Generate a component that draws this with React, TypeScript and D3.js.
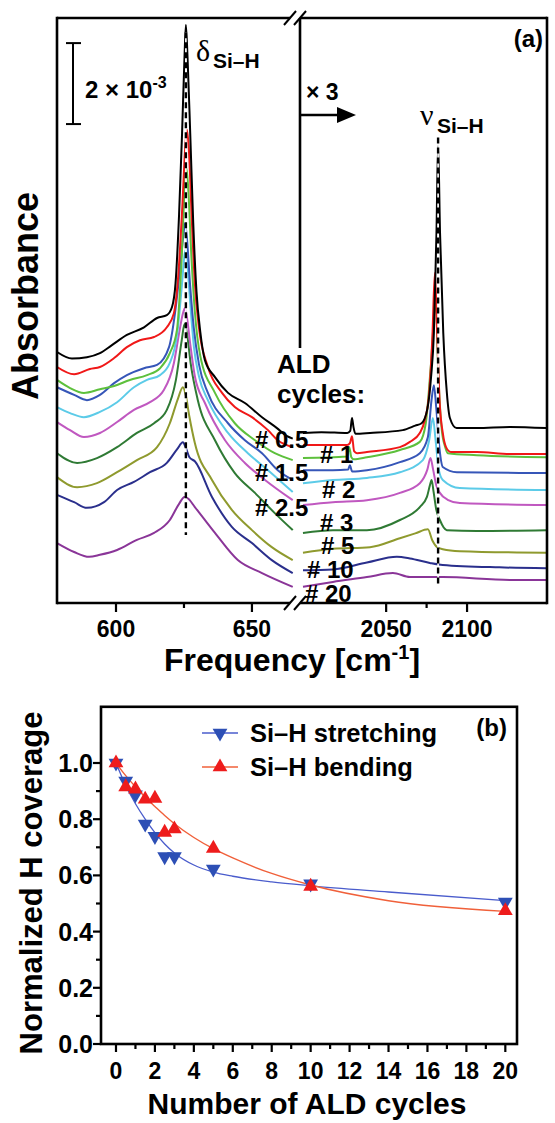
import React from "react";
import * as d3 from "d3";

type Pt = [number, number];

// ---------- Panel (a): FTIR spectra (absorbance in units of 1e-3) ----------
const CYCLES = ["0", "0.5", "1", "1.5", "2", "2.5", "3", "5", "10", "20"];
const COLORS = ["#000000", "#f01818", "#5dc03c", "#3656b8", "#5ccbe8", "#c058c0", "#2f7a34", "#8f9a2e", "#2a2f8c", "#8a3598"];

// delta(Si-H) band, 578-665 cm-1
const bend_0: Pt[] = [[578.3,6.20],[583.8,6.04],[589.3,6.07],[594.1,6.17],[598.5,6.37],[604.0,6.62],[610.3,6.81],[615.1,7.04],[618.7,7.11],[620.6,7.31],[621.9,7.9],[623.2,9.6],[624.3,11.6],[625.2,13.5],[625.7,14.28],[626.3,13.5],[627.3,11.6],[628.4,9.4],[629.6,7.7],[631.0,6.7],[632.7,6.0],[636.4,5.58],[641.2,5.19],[647.4,4.94],[653.7,4.59],[659.2,4.32],[662.9,4.12],[665.0,4.06]];
const bend_05: Pt[] = [[578.3,5.83],[584.6,5.65],[590.4,5.78],[594.1,5.83],[599.3,6.05],[604.0,6.32],[608.8,6.49],[614.0,6.57],[618.7,6.81],[621.3,7.16],[622.8,8.0],[624.4,9.8],[625.5,11.3],[626.1,11.69],[626.8,11.2],[627.8,9.6],[629.0,7.9],[630.5,6.8],[633.8,5.83],[639.0,5.19],[643.7,4.84],[650.0,4.59],[655.9,4.27],[659.5,4.02],[665.0,3.85]];
const bend_1: Pt[] = [[578.3,5.51],[583.1,5.31],[588.2,5.19],[594.1,5.28],[599.3,5.36],[605.1,5.51],[611.4,5.63],[616.2,5.80],[619.8,6.17],[622.4,6.74],[624.0,8.3],[625.3,10.3],[625.9,10.75],[626.6,10.2],[627.7,8.6],[629.0,7.2],[631.0,6.1],[636.4,5.19],[643.7,4.44],[651.1,4.02],[658.4,3.70],[665.0,3.53]];
const bend_15: Pt[] = [[578.3,5.33],[584.6,5.14],[589.3,5.01],[594.1,5.14],[599.3,5.43],[604.0,5.63],[610.3,5.80],[615.1,5.88],[619.5,6.32],[621.7,7.16],[623.6,8.3],[624.8,9.1],[625.4,9.38],[626.1,9.0],[627.2,7.9],[628.6,6.8],[630.5,5.9],[633.8,5.19],[641.2,4.44],[647.4,4.02],[653.7,3.70],[659.5,3.28],[665.0,3.04]];
const bend_2: Pt[] = [[578.3,4.84],[583.1,4.69],[588.2,4.59],[594.1,4.72],[600.4,4.96],[606.6,5.33],[611.4,5.51],[616.2,5.63],[619.8,5.93],[622.6,6.7],[624.3,7.9],[625.2,8.6],[625.6,8.72],[626.2,8.4],[627.3,7.4],[628.7,6.3],[630.5,5.6],[633.8,5.01],[641.2,4.20],[648.5,3.70],[655.9,3.28],[665.0,2.74]];
const bend_25: Pt[] = [[578.3,4.47],[583.1,4.27],[588.2,4.10],[594.1,4.20],[600.4,4.47],[606.6,4.77],[612.5,4.96],[617.6,5.26],[621.3,5.93],[623.3,6.7],[624.6,7.15],[625.3,7.28],[626.0,7.1],[627.3,6.4],[629.0,5.6],[632.7,4.94],[640.1,4.02],[647.4,3.46],[654.8,3.04],[665.0,2.54]];
const bend_3: Pt[] = [[578.3,3.70],[585.7,3.46],[593.0,3.58],[600.4,3.85],[607.7,4.20],[614.0,4.44],[618.7,4.77],[622.0,5.5],[624.2,6.5],[625.2,6.89],[626.0,6.7],[627.5,5.9],[630.1,5.01],[636.4,4.02],[643.7,3.21],[651.1,2.72],[658.4,2.22],[665.0,1.80]];
const bend_5: Pt[] = [[578.3,3.11],[585.7,2.86],[593.0,2.96],[600.4,3.23],[607.7,3.53],[615.1,3.85],[619.8,4.44],[622.8,5.05],[624.6,5.33],[625.6,5.15],[627.0,4.6],[629.0,3.95],[635.3,3.04],[642.6,2.30],[650.0,1.80],[657.3,1.38],[665.0,1.06]];
const bend_10: Pt[] = [[578.3,2.67],[584.6,2.49],[589.3,2.35],[595.6,2.49],[600.4,2.79],[606.6,2.99],[612.5,3.23],[618.7,3.46],[622.5,3.8],[624.6,3.97],[625.6,3.85],[627.0,3.6],[629.0,3.5],[635.3,2.62],[642.6,1.88],[650.0,1.48],[657.3,1.06],[665.0,0.74]];
const bend_20: Pt[] = [[578.3,1.48],[584.6,1.26],[590.1,1.14],[594.1,1.19],[600.4,1.31],[607.7,1.56],[614.0,1.73],[619.8,2.05],[623.2,2.45],[625.2,2.62],[626.5,2.58],[629.0,2.37],[636.4,1.73],[644.8,1.06],[653.7,0.74],[665.0,0.40]];

// nu(Si-H) band, 1998-2149 cm-1 (displayed x3)
const str_0: Pt[] = [[1998.6,4.20],[2010,4.22],[2026.0,4.20],[2027.8,4.25],[2028.9,4.57],[2029.8,4.35],[2031.0,4.18],[2040.0,4.20],[2060.3,4.27],[2068.0,4.38],[2071.9,4.44],[2075.5,4.8],[2077.8,5.6],[2079.5,6.67],[2081.1,9.14],[2082.1,11.31],[2083.3,9.14],[2085.3,6.67],[2087.5,5.2],[2089.4,4.57],[2093.5,4.32],[2106.0,4.32],[2126.4,4.35],[2149.0,4.32]];
const str_05: Pt[] = [[1998.6,3.90],[2025.8,3.90],[2027.6,3.95],[2028.9,4.12],[2030.2,3.75],[2032.0,3.70],[2038.1,3.73],[2058.5,3.85],[2064.7,3.98],[2070.8,4.2],[2073.9,4.52],[2076.6,5.2],[2078.6,6.6],[2080.1,8.15],[2081.5,6.7],[2083.0,5.0],[2085.0,4.2],[2087.0,3.85],[2090.0,3.73],[2106.0,3.73],[2126.4,3.68],[2149.0,3.68]];
const str_1: Pt[] = [[1998.6,3.58],[2025.8,3.62],[2027.2,3.85],[2028.5,3.60],[2030.0,3.55],[2038.1,3.60],[2058.5,3.78],[2070.8,3.98],[2074.5,4.44],[2077.5,5.8],[2080.7,7.4],[2082.3,5.6],[2084.4,4.27],[2086.5,3.85],[2088.1,3.70],[2106.0,3.65],[2149.0,3.60]];
const str_15: Pt[] = [[1998.6,3.28],[2017.1,3.28],[2026.5,3.30],[2027.6,3.40],[2029.0,3.25],[2038.1,3.28],[2058.5,3.48],[2070.8,3.70],[2075.8,4.10],[2078.0,5.0],[2079.5,5.38],[2081.0,4.8],[2083.0,3.8],[2085.0,3.36],[2093.7,3.23],[2149.0,3.21]];
const str_2: Pt[] = [[1998.6,2.96],[2017.1,3.04],[2038.1,3.09],[2058.5,3.23],[2072.7,3.53],[2076.5,4.0],[2078.9,4.57],[2080.6,4.0],[2082.5,3.3],[2085.0,3.04],[2095.5,2.84],[2149.0,2.79]];
const str_25: Pt[] = [[1998.6,2.42],[2017.1,2.49],[2038.1,2.54],[2058.5,2.72],[2070.8,2.96],[2075.5,3.3],[2077.4,3.58],[2079.0,3.3],[2081.0,2.9],[2083.2,2.72],[2088.0,2.55],[2095.5,2.47],[2149.0,2.42]];
const str_3: Pt[] = [[1998.6,1.73],[2017.1,1.80],[2038.1,1.80],[2058.5,2.05],[2070.8,2.37],[2075.2,2.62],[2077.0,2.9],[2078.1,3.04],[2079.3,2.75],[2081.0,2.3],[2083.2,2.05],[2087.5,1.80],[2106.0,1.78],[2149.0,1.80]];
const str_5: Pt[] = [[1998.6,1.24],[2017.1,1.34],[2040.0,1.38],[2058.5,1.60],[2068.0,1.72],[2075.8,1.82],[2078.5,1.55],[2081.5,1.38],[2085.0,1.33],[2095.5,1.28],[2149.0,1.24]];
const str_10: Pt[] = [[1998.6,0.81],[2017.1,0.83],[2038.1,1.0],[2056.6,1.14],[2064.7,1.10],[2077.0,0.99],[2085.0,0.94],[2120.0,0.88],[2149.0,0.86]];
const str_20: Pt[] = [[1998.6,0.40],[2017.1,0.52],[2038.1,0.64],[2054.2,0.74],[2064.7,0.64],[2085.0,0.64],[2126.4,0.57],[2149.0,0.57]];

const BEND = [bend_0, bend_05, bend_1, bend_15, bend_2, bend_25, bend_3, bend_5, bend_10, bend_20];
const STRETCH = [str_0, str_05, str_1, str_15, str_2, str_25, str_3, str_5, str_10, str_20];

const LEFT_TICKS = [600, 650];
const LEFT_MINOR = [625];
const RIGHT_TICKS = [2050, 2100];
const RIGHT_MINOR = [2075];
const BEND_PEAK = 625.7;
const STRETCH_PEAK = 2082.1;

// ---------- Panel (b): normalized H coverage ----------
const ALD_CYCLES = [0, 0.5, 1, 1.5, 2, 2.5, 3, 5, 10, 20];
const STRETCHING = [1.0, 0.936, 0.887, 0.783, 0.739, 0.667, 0.667, 0.623, 0.570, 0.505];
const BENDING = [1.0, 0.915, 0.907, 0.871, 0.874, 0.753, 0.765, 0.696, 0.561, 0.474];
const FIT_X = [0, 0.5, 1, 1.5, 2, 2.5, 3, 4, 5, 6, 8, 10, 14, 20];
const FIT_STRETCH = [1.0, 0.92, 0.855, 0.80, 0.752, 0.712, 0.68, 0.637, 0.612, 0.597, 0.577, 0.563, 0.541, 0.51];
const FIT_BEND = [1.0, 0.955, 0.915, 0.878, 0.845, 0.813, 0.784, 0.735, 0.695, 0.662, 0.607, 0.566, 0.51, 0.472];
const B_XTICKS = [0, 2, 4, 6, 8, 10, 12, 14, 16, 18, 20];
const B_XMINOR = [1, 3, 5, 7, 9, 11, 13, 15, 17, 19];
const B_YTICKS = [0, 0.2, 0.4, 0.6, 0.8, 1.0];
const B_YMINOR = [0.1, 0.3, 0.5, 0.7, 0.9];

const FONT = "'Liberation Sans', Arial, Helvetica, sans-serif";
const SERIF = "'Liberation Serif', 'Times New Roman', serif";

export default function App() {
  // panel (a) scales
  const aTop = 18, aBot = 603, aLeft = 57, aRight = 547;
  const xL = d3.scaleLinear().domain([578.3, 665.1]).range([aLeft, 293]);
  const xR = d3.scaleLinear().domain([1998, 2149.4]).range([302, aRight]);
  const yA = d3.scaleLinear().domain([0, 14.45]).range([aBot, aTop]);
  const lineL = d3.line<Pt>().x((d) => xL(d[0])).y((d) => yA(d[1])).curve(d3.curveMonotoneX);
  const lineR = d3.line<Pt>().x((d) => xR(d[0])).y((d) => yA(d[1])).curve(d3.curveMonotoneX);

  // panel (b) scales
  const bTop = 706.8, bBot = 1044, bLeft = 101, bRight = 517;
  const xB = d3.scaleLinear().domain([-0.77, 20.6]).range([bLeft, bRight]);
  const yB = d3.scaleLinear().domain([0, 1.2]).range([bBot, bTop]);
  const fitLine = d3.line<[number, number]>().x((d) => xB(d[0])).y((d) => yB(d[1])).curve(d3.curveMonotoneX);
  const triUp = d3.symbol(d3.symbolTriangle, 95)() as string;
  const fmt = d3.format(".1f");

  const sw = 2.6;
  const breakX1 = 290, breakX2 = 300;

  const leftLabels = [
    { t: "# 0.5", x: 255, y: 448 },
    { t: "# 1.5", x: 255, y: 481 },
    { t: "# 2.5", x: 255, y: 516 },
  ];
  const rightLabels = [
    { t: "# 1", x: 320, y: 463 },
    { t: "# 2", x: 322, y: 498 },
    { t: "# 3", x: 320, y: 531 },
    { t: "# 5", x: 321, y: 554 },
    { t: "# 10", x: 307, y: 578 },
    { t: "# 20", x: 305, y: 602 },
  ];

  return (
    <svg width={555} height={1123} style={{ position: "absolute", left: 0, top: 0, background: "#fff" }} fontFamily={FONT}>
      <rect x={0} y={0} width={555} height={1123} fill="#fff" />
      {/* ===== Panel (a) ===== */}
      <g>
        {BEND.map((s, i) => (
          <path key={"bl" + i} d={lineL(s) as string} fill="none" stroke={COLORS[i]} strokeWidth={2} strokeLinejoin="round" />
        )).reverse()}
        {STRETCH.map((s, i) => (
          <path key={"sr" + i} d={lineR(s) as string} fill="none" stroke={COLORS[i]} strokeWidth={2} strokeLinejoin="round" />
        )).reverse()}

        {/* dashed peak markers */}
        <line x1={xL(BEND_PEAK)} x2={xL(BEND_PEAK)} y1={yA(14.1)} y2={yA(1.68)} stroke="#fff" strokeWidth={1.6} />
        <line x1={xL(BEND_PEAK)} x2={xL(BEND_PEAK)} y1={yA(14.1)} y2={yA(1.68)} stroke="#000" strokeWidth={2.4} strokeDasharray="6,4" />
        <line x1={xR(STRETCH_PEAK)} x2={xR(STRETCH_PEAK)} y1={yA(11.5)} y2={yA(0.4)} stroke="#fff" strokeWidth={1.6} />
        <line x1={xR(STRETCH_PEAK)} x2={xR(STRETCH_PEAK)} y1={yA(11.5)} y2={yA(0.4)} stroke="#000" strokeWidth={2.4} strokeDasharray="6,4" />

        {/* frame */}
        <line x1={aLeft} x2={aLeft} y1={aTop - 1.3} y2={aBot + 1.3} stroke="#000" strokeWidth={sw} />
        <line x1={aRight} x2={aRight} y1={aTop - 1.3} y2={aBot + 1.3} stroke="#000" strokeWidth={sw} />
        <line x1={aLeft} x2={breakX1} y1={aTop} y2={aTop} stroke="#000" strokeWidth={sw} />
        <line x1={breakX2} x2={aRight} y1={aTop} y2={aTop} stroke="#000" strokeWidth={sw} />
        <line x1={aLeft} x2={breakX1} y1={aBot} y2={aBot} stroke="#000" strokeWidth={sw} />
        <line x1={breakX2} x2={aRight} y1={aBot} y2={aBot} stroke="#000" strokeWidth={sw} />
        <line x1={breakX2} x2={breakX2} y1={aTop} y2={348} stroke="#000" strokeWidth={sw} />
        {[breakX1, breakX2].map((bx) => (
          <g key={"bk" + bx}>
            <line x1={bx - 6} x2={bx + 6} y1={aTop + 7} y2={aTop - 7} stroke="#000" strokeWidth={2} />
            <line x1={bx - 6} x2={bx + 6} y1={aBot + 7} y2={aBot - 7} stroke="#000" strokeWidth={2} />
          </g>
        ))}

        {/* x ticks */}
        {LEFT_TICKS.map((t) => (
          <g key={"lt" + t}>
            <line x1={xL(t)} x2={xL(t)} y1={aBot} y2={aBot + 9} stroke="#000" strokeWidth={2.2} />
            <text x={xL(t)} y={637} textAnchor="middle" fontSize={23} fontWeight="bold">{t}</text>
          </g>
        ))}
        {LEFT_MINOR.map((t) => (
          <line key={"lm" + t} x1={xL(t)} x2={xL(t)} y1={aBot} y2={aBot + 5} stroke="#000" strokeWidth={2.2} />
        ))}
        {RIGHT_TICKS.map((t) => (
          <g key={"rt" + t}>
            <line x1={xR(t)} x2={xR(t)} y1={aBot} y2={aBot + 9} stroke="#000" strokeWidth={2.2} />
            <text x={xR(t)} y={637} textAnchor="middle" fontSize={23} fontWeight="bold">{t}</text>
          </g>
        ))}
        {RIGHT_MINOR.map((t) => (
          <line key={"rm" + t} x1={xR(t)} x2={xR(t)} y1={aBot} y2={aBot + 5} stroke="#000" strokeWidth={2.2} />
        ))}

        {/* axis titles */}
        <text x={292} y={671} textAnchor="middle" fontSize={32} fontWeight="bold">
          Frequency [cm<tspan fontSize={20} dy={-12}>-1</tspan><tspan dy={12}>]</tspan>
        </text>
        <text transform="translate(38,296) rotate(-90)" textAnchor="middle" fontSize={36} fontWeight="bold">Absorbance</text>

        {/* scale bar */}
        <line x1={73} x2={73} y1={yA(13.83)} y2={yA(11.83)} stroke="#000" strokeWidth={2} />
        <line x1={66} x2={81} y1={yA(13.83)} y2={yA(13.83)} stroke="#000" strokeWidth={2} />
        <line x1={66} x2={81} y1={yA(11.83)} y2={yA(11.83)} stroke="#000" strokeWidth={2} />
        <text x={85} y={98} fontSize={24} fontWeight="bold">
          2 × 10<tspan fontSize={16} dy={-10}>-3</tspan>
        </text>

        {/* peak labels */}
        <text x={196} y={61} fontSize={30} fontFamily={SERIF}>δ</text>
        <text x={213} y={68} fontSize={21} fontWeight="bold">Si–H</text>
        <text x={420} y={125} fontSize={30} fontFamily={SERIF}>ν</text>
        <text x={437} y={133} fontSize={21} fontWeight="bold">Si–H</text>

        {/* x3 arrow */}
        <text x={306} y={100} fontSize={23} fontWeight="bold">× 3</text>
        <line x1={breakX2} x2={340} y1={115} y2={115} stroke="#000" strokeWidth={2.4} />
        <path d="M337,107 L356,115 L337,123 Z" fill="#000" />

        <text x={543} y={47} textAnchor="end" fontSize={24} fontWeight="bold">(a)</text>

        {/* ALD cycle labels */}
        <text x={277} y={373} fontSize={26} fontWeight="bold">ALD</text>
        <text x={277} y={403} fontSize={26} fontWeight="bold">cycles:</text>
        {leftLabels.map((l) => (
          <text key={l.t} x={l.x} y={l.y} fontSize={24} fontWeight="bold">{l.t}</text>
        ))}
        {rightLabels.map((l) => (
          <text key={l.t} x={l.x} y={l.y} fontSize={24} fontWeight="bold">{l.t}</text>
        ))}
      </g>

      {/* ===== Panel (b) ===== */}
      <g>
        <path d={fitLine(FIT_X.map((x, i) => [x, FIT_STRETCH[i]] as [number, number])) as string} fill="none" stroke="#4a5ccc" strokeWidth={1.3} />
        <path d={fitLine(FIT_X.map((x, i) => [x, FIT_BEND[i]] as [number, number])) as string} fill="none" stroke="#f0603a" strokeWidth={1.4} />
        {ALD_CYCLES.map((c, i) => (
          <path key={"sm" + i} d={triUp} transform={`translate(${xB(c)},${yB(STRETCHING[i])}) rotate(180)`} fill="#2d4fb5" />
        ))}
        {ALD_CYCLES.map((c, i) => (
          <path key={"bm" + i} d={triUp} transform={`translate(${xB(c)},${yB(BENDING[i])})`} fill="#ee1c1c" />
        ))}

        <rect x={bLeft} y={bTop} width={bRight - bLeft} height={bBot - bTop} fill="none" stroke="#000" strokeWidth={sw} />

        {B_YTICKS.map((t) => (
          <g key={"by" + t}>
            <line x1={bLeft} x2={bLeft - 8} y1={yB(t)} y2={yB(t)} stroke="#000" strokeWidth={2.2} />
            <text x={93} y={yB(t) + 9} textAnchor="end" fontSize={25} fontWeight="bold">{fmt(t)}</text>
          </g>
        ))}
        {B_YMINOR.map((t) => (
          <line key={"bym" + t} x1={bLeft} x2={bLeft - 5} y1={yB(t)} y2={yB(t)} stroke="#000" strokeWidth={2.2} />
        ))}
        {B_XTICKS.map((t) => (
          <g key={"bx" + t}>
            <line x1={xB(t)} x2={xB(t)} y1={bBot} y2={bBot + 8} stroke="#000" strokeWidth={2.2} />
            <text x={xB(t)} y={1079} textAnchor="middle" fontSize={23} fontWeight="bold">{t}</text>
          </g>
        ))}
        {B_XMINOR.map((t) => (
          <line key={"bxm" + t} x1={xB(t)} x2={xB(t)} y1={bBot} y2={bBot + 5} stroke="#000" strokeWidth={2.2} />
        ))}

        <text x={307} y={1114} textAnchor="middle" fontSize={30} fontWeight="bold">Number of ALD cycles</text>
        <text transform="translate(42,883) rotate(-90)" textAnchor="middle" fontSize={31} fontWeight="bold">Normalized H coverage</text>

        {/* legend */}
        <line x1={202} x2={238} y1={733} y2={733} stroke="#4a5ccc" strokeWidth={1.3} />
        <path d={triUp} transform="translate(220,733) rotate(180)" fill="#2d4fb5" />
        <text x={250} y={742} fontSize={25.5} fontWeight="bold">Si–H stretching</text>
        <line x1={202} x2={238} y1={767} y2={767} stroke="#f0603a" strokeWidth={1.4} />
        <path d={triUp} transform="translate(220,767)" fill="#ee1c1c" />
        <text x={250} y={776} fontSize={25.5} fontWeight="bold">Si–H bending</text>

        <text x={507} y={736} textAnchor="end" fontSize={24} fontWeight="bold">(b)</text>
      </g>
    </svg>
  );
}
